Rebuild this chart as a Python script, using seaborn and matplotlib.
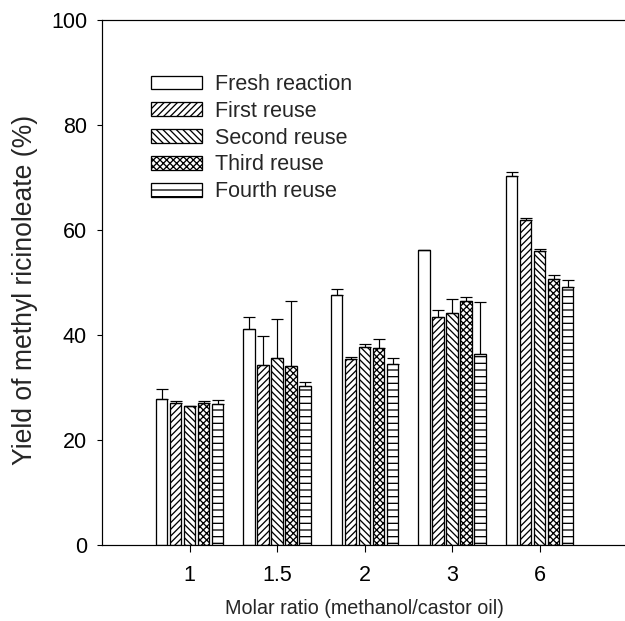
import matplotlib
matplotlib.use("Agg")
import matplotlib.pyplot as plt
from matplotlib.patches import Patch
from matplotlib.container import BarContainer
import seaborn as sns
import pandas as pd

# ---- data ----
ratios = ["1", "1.5", "2", "3", "6"]
conditions = ["Fresh reaction", "First reuse", "Second reuse", "Third reuse", "Fourth reuse"]

fresh = [27.9, 41.1, 47.6, 56.2, 70.2]
first = [27.0, 34.2, 35.5, 43.5, 61.9]
second = [26.5, 35.7, 37.8, 44.1, 56.0]
third = [27.0, 34.1, 37.6, 46.5, 50.6]
fourth = [26.9, 30.2, 34.4, 36.4, 49.1]

fresh_err = [1.9, 2.4, 1.1, 0.0, 0.9]
first_err = [0.4, 5.6, 0.3, 1.3, 0.3]
second_err = [0.0, 7.4, 0.4, 2.7, 0.3]
third_err = [0.5, 12.4, 1.6, 0.8, 0.8]
fourth_err = [0.7, 0.8, 1.2, 9.8, 1.4]

yticks = [0, 20, 40, 60, 80, 100]

series = [fresh, first, second, third, fourth]
errors = [fresh_err, first_err, second_err, third_err, fourth_err]
hatches = ["", "////", "\\\\\\\\", "xxxx", "--"]

DPI = 80


def pt(px):
    return px * 72.0 / DPI


rows = []
for cond, vals in zip(conditions, series):
    for r, v in zip(ratios, vals):
        rows.append({"ratio": r, "cond": cond, "yield": v})
df = pd.DataFrame(rows)

sns.set_style("ticks")
plt.rcParams["font.family"] = ["Liberation Sans", "DejaVu Sans"]
plt.rcParams["hatch.linewidth"] = pt(1.3)

fig = plt.figure(figsize=(625 / DPI, 621 / DPI), dpi=DPI)
ax = fig.add_axes([102 / 625, 1 - 545 / 621, 525 / 625, 525 / 621])

sns.barplot(data=df, x="ratio", y="yield", hue="cond", order=ratios,
            hue_order=conditions, palette=["white"] * 5, errorbar=None,
            edgecolor="black", linewidth=pt(1.3), width=0.8, gap=0.15,
            legend=False, ax=ax)

bar_conts = [c for c in ax.containers if isinstance(c, BarContainer)]
for i, cont in enumerate(bar_conts):
    xs, ys = [], []
    for bar in cont:
        bar.set_hatch(hatches[i])
        bar.set_edgecolor("black")
        xs.append(bar.get_x() + bar.get_width() / 2)
        ys.append(bar.get_height())
    ax.errorbar(xs, ys, yerr=[[0] * len(errors[i]), errors[i]], fmt="none",
                ecolor="black", elinewidth=pt(1.2), capsize=pt(6),
                capthick=pt(1.2))

ax.set_xlim(-1, 5)
ax.set_ylim(0, 100)
ax.set_yticks(yticks)
ax.tick_params(axis="y", direction="out", length=pt(5), width=pt(1.1),
               pad=pt(10), labelsize=pt(21.5), colors="black")
ax.tick_params(axis="x", direction="out", length=pt(7), width=pt(1.1),
               pad=pt(13), labelsize=pt(21.5), colors="black")
ax.set_xlabel("Molar ratio (methanol/castor oil)", fontsize=pt(19.8),
              labelpad=pt(13))
ax.set_ylabel("Yield of methyl ricinoleate (%)", fontsize=pt(26.5))
ax.yaxis.set_label_coords(-0.122, 0.485)

for s in ["left", "bottom", "top"]:
    ax.spines[s].set_visible(True)
    ax.spines[s].set_linewidth(pt(1.2))
    ax.spines[s].set_color("black")
ax.spines["right"].set_visible(False)

handles = [Patch(facecolor="white", edgecolor="black", hatch=h, label=c,
                 linewidth=pt(1.3))
           for h, c in zip(hatches, conditions)]
ax.legend(handles=handles, loc="upper left", bbox_to_anchor=(0.0933, 0.897),
          frameon=False, fontsize=pt(21.5), handlelength=2.37,
          handleheight=0.6, handletextpad=0.6, labelspacing=0.27,
          borderpad=0, borderaxespad=0)

fig.savefig("out.png", dpi=DPI)
